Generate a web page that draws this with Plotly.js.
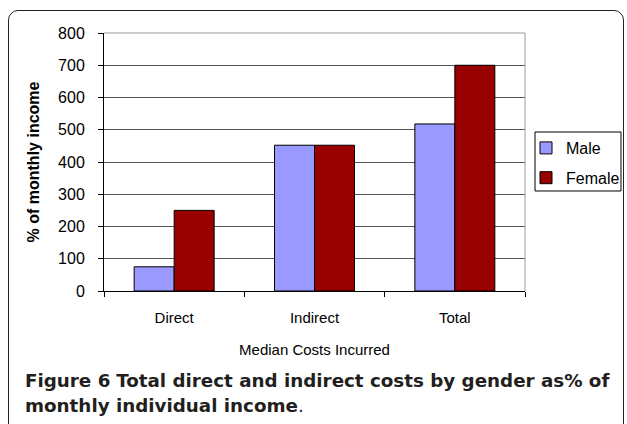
<!DOCTYPE html>
<html>
<head>
<meta charset="utf-8">
<script src="https://cdn.plot.ly/plotly-3.0.1.min.js"></script>
<style>
  html, body { margin: 0; padding: 0; background: #fff; }
  #wrap { position: relative; width: 627px; height: 424px; overflow: hidden; }
  #frame { position: absolute; left: 8px; top: 10px; width: 616px; height: 440px;
           border: 1px solid #222; border-radius: 10px; box-sizing: border-box; }
  #chart { position: absolute; left: 0; top: 0; width: 627px; height: 424px; }
</style>
</head>
<body>
<div id="wrap">
  <div id="frame"></div>
  <div id="chart"></div>
</div>
<script>
const categories = ["Direct", "Indirect", "Total"];
const maleValues = [75, 452, 518];
const femaleValues = [250, 452, 700];
const seriesNames = ["Male", "Female"];
const yTicks = [0, 100, 200, 300, 400, 500, 600, 700, 800];

const font = "Liberation Sans, Arial, sans-serif";
const capFont = "DejaVu Sans, sans-serif";

const traces = [
  { type: "bar", name: seriesNames[0], x: categories, y: maleValues, legendgroup: "a",
    marker: { color: "#9999ff", line: { color: "#000", width: 1 } }, hoverinfo: "none" },
  { type: "bar", name: seriesNames[1], x: categories, y: femaleValues, legendgroup: "b",
    marker: { color: "#990000", line: { color: "#000", width: 1 } }, hoverinfo: "none" }
];

const layout = {
  width: 627, height: 424,
  paper_bgcolor: "rgba(0,0,0,0)", plot_bgcolor: "#fff",
  margin: { l: 104, r: 102, t: 33, b: 133 },
  barmode: "group", bargap: 0.43, bargroupgap: 0,
  font: { family: font, size: 15, color: "#000" },
  showlegend: true,
  legend: { xref: "container", yref: "container", x: 526 / 627, y: 1 - 131 / 424,
            xanchor: "left", yanchor: "top", traceorder: "grouped", tracegroupgap: 6,
            borderwidth: 0, bgcolor: "rgba(0,0,0,0)",
            font: { family: font, size: 16 }, itemwidth: 30 },
  xaxis: {
    type: "category", tickson: "boundaries", ticks: "outside", ticklen: 5, automargin: false,
    tickcolor: "#000", linecolor: "#000", showline: true, linewidth: 1,
    showgrid: false, tickfont: { family: font, size: 15 }, ticklabelstandoff: 13,
    title: { text: "Median Costs Incurred", font: { family: font, size: 15 }, standoff: 19 }
  },
  yaxis: {
    range: [0, 800], tickvals: yTicks, ticks: "outside", ticklen: 5, automargin: false,
    tickcolor: "#000", linecolor: "#000", showline: true, linewidth: 1,
    gridcolor: "#555", gridwidth: 1, zeroline: false,
    tickfont: { family: font, size: 16 }, ticklabelstandoff: 10,
    title: { text: "<b>% of monthly income</b>", font: { family: font, size: 16 }, standoff: 14 }
  },
  shapes: [
    { type: "line", xref: "paper", yref: "paper", x0: 1, x1: 1, y0: 0, y1: 1,
      line: { color: "#999", width: 1 } },
    { type: "line", xref: "paper", yref: "paper", x0: 0, x1: 1, y0: 1, y1: 1,
      line: { color: "#999", width: 1 } },
    { type: "rect", xref: "paper", yref: "paper", x0: 1.0238, x1: 1.228, y0: 0.3876, y1: 0.6163,
      line: { color: "#000", width: 1 }, fillcolor: "rgba(0,0,0,0)", layer: "above" }
  ],
  annotations: [
    { xref: "paper", yref: "paper", x: -0.1920, y: -0.3450, xanchor: "left", yanchor: "middle",
      showarrow: false, align: "left",
      text: "<b>Figure 6</b> <b>Total direct and indirect costs by gender as% of</b>",
      font: { family: capFont, size: 18.3, color: "#231f20" } },
    { xref: "paper", yref: "paper", x: -0.1920, y: -0.4420, xanchor: "left", yanchor: "middle",
      showarrow: false, align: "left",
      text: "<b>monthly individual income</b>.",
      font: { family: capFont, size: 18.3, color: "#231f20" } }
  ]
};

Plotly.newPlot("chart", traces, layout, { displayModeBar: false, staticPlot: true });
</script>
</body>
</html>
